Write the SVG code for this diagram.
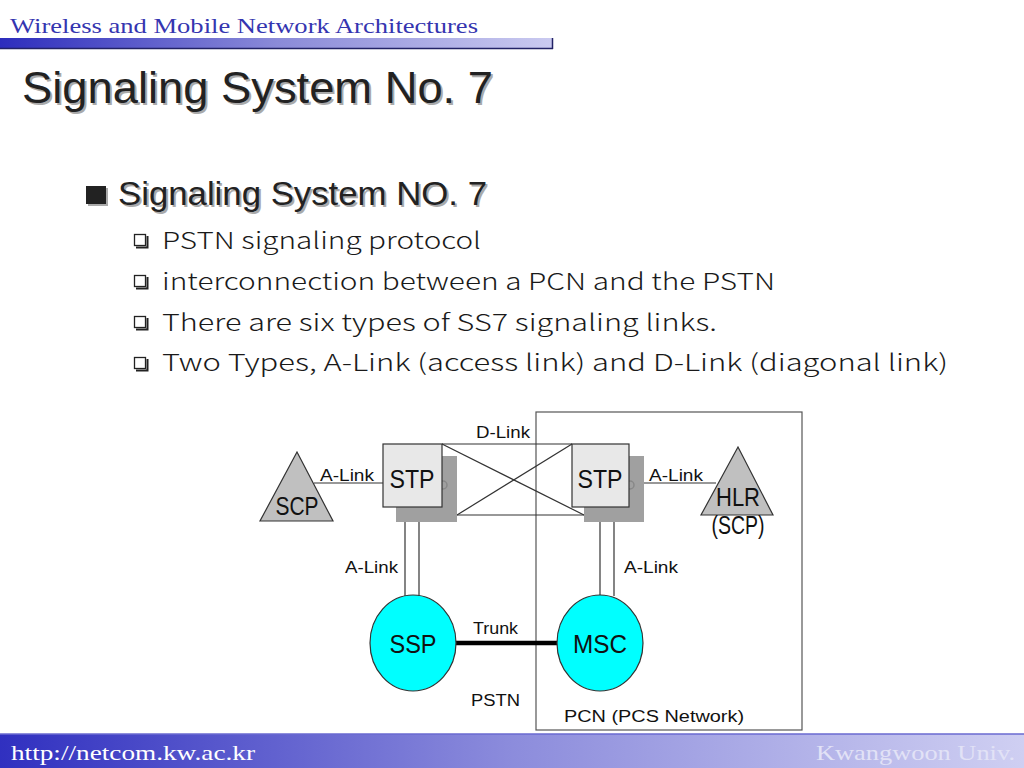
<svg xmlns="http://www.w3.org/2000/svg" width="1024" height="768" viewBox="0 0 1024 768">
<defs>
<linearGradient id="hbar" x1="0" y1="0" x2="1" y2="0">
<stop offset="0" stop-color="#2d2dbd"/>
<stop offset="0.5" stop-color="#8a8ad8"/>
<stop offset="1" stop-color="#cacaf0"/>
</linearGradient>
<linearGradient id="fbar" x1="0" y1="0" x2="1" y2="0">
<stop offset="0" stop-color="#3030c0"/>
<stop offset="0.5" stop-color="#8c8cdc"/>
<stop offset="1" stop-color="#cfcff2"/>
</linearGradient>
<style>
.hdr{font-family:"Liberation Serif","Times New Roman",serif;}
.sans{font-family:"Liberation Sans",Arial,sans-serif;}
.kr{font-family:"Noto Sans CJK KR","DejaVu Sans",sans-serif;font-weight:300;fill:#1a1a1a;}
.lbl{font-family:"Liberation Sans",Arial,sans-serif;font-size:16px;fill:#111;}
.node{font-family:"Liberation Sans",Arial,sans-serif;font-size:25px;fill:#111;text-anchor:middle;}
.ln{stroke:#333;stroke-width:1.2;fill:none;}
.stp{fill:#e8e8e8;stroke:#333;stroke-width:1.2;}
.shadow{fill:#a0a0a0;}
.tri{fill:#c0c0c0;stroke:#333;stroke-width:1.2;}
.ell{fill:#00ffff;stroke:#333;stroke-width:1.2;}
</style>
</defs>
<rect width="1024" height="768" fill="#ffffff"/>

<!-- header -->
<text class="hdr" x="10" y="33" font-size="22" fill="#3535b0" textLength="468" lengthAdjust="spacingAndGlyphs">Wireless and Mobile Network Architectures</text>
<rect x="0" y="38" width="553" height="11" fill="url(#hbar)"/>
<line x1="0" y1="48.5" x2="553" y2="48.5" stroke="#222266" stroke-width="1.5"/>
<line x1="552.5" y1="38" x2="552.5" y2="49" stroke="#222266" stroke-width="1.5"/>

<!-- title -->
<text class="sans" x="24" y="105" font-size="44" fill="#aaa" textLength="471" lengthAdjust="spacingAndGlyphs">Signaling System No. 7</text>
<text class="sans" x="22" y="103" font-size="44" fill="#222" textLength="471" lengthAdjust="spacingAndGlyphs">Signaling System No. 7</text>

<!-- main bullet -->
<rect x="88" y="188" width="20" height="18" fill="#aaa"/>
<rect x="86" y="186" width="20" height="18" fill="#222"/>
<text class="sans" x="120" y="207" font-size="34" fill="#aaa" textLength="369" lengthAdjust="spacingAndGlyphs">Signaling System NO. 7</text>
<text class="sans" x="118" y="205" font-size="34" fill="#222" textLength="369" lengthAdjust="spacingAndGlyphs">Signaling System NO. 7</text>

<!-- sub bullets -->
<g id="sub1">
<rect x="134.5" y="234.5" width="11" height="11" fill="none" stroke="#222" stroke-width="1.3"/>
<path d="M136 247.5 H147.5 V236" fill="none" stroke="#222" stroke-width="2"/>
<text class="kr" x="162" y="249" font-size="23" textLength="319" lengthAdjust="spacingAndGlyphs">PSTN signaling protocol</text>
</g>
<g id="sub2">
<rect x="134.5" y="275.5" width="11" height="11" fill="none" stroke="#222" stroke-width="1.3"/>
<path d="M136 288.5 H147.5 V277" fill="none" stroke="#222" stroke-width="2"/>
<text class="kr" x="162" y="290" font-size="23" textLength="613" lengthAdjust="spacingAndGlyphs">interconnection between a PCN and the PSTN</text>
</g>
<g id="sub3">
<rect x="134.5" y="316.5" width="11" height="11" fill="none" stroke="#222" stroke-width="1.3"/>
<path d="M136 329.5 H147.5 V318" fill="none" stroke="#222" stroke-width="2"/>
<text class="kr" x="162" y="331" font-size="23" textLength="555" lengthAdjust="spacingAndGlyphs">There are six types of SS7 signaling links.</text>
</g>
<g id="sub4">
<rect x="134.5" y="357.5" width="11" height="11" fill="none" stroke="#222" stroke-width="1.3"/>
<path d="M136 370.5 H147.5 V359" fill="none" stroke="#222" stroke-width="2"/>
<text class="kr" x="162" y="371" font-size="23" textLength="786" lengthAdjust="spacingAndGlyphs">Two Types, A-Link (access link) and D-Link (diagonal link)</text>
</g>

<!-- PCN region -->
<g id="pcn">
<rect x="536" y="412" width="266" height="318" fill="none" stroke="#555" stroke-width="1.2"/>
<text class="lbl" x="564" y="722" textLength="180" lengthAdjust="spacingAndGlyphs">PCN (PCS Network)</text>
</g>
<text class="lbl" x="471" y="706" textLength="49" lengthAdjust="spacingAndGlyphs">PSTN</text>

<!-- connectors -->
<g id="connectors">
<line class="ln" x1="442" y1="444" x2="572" y2="444"/>
<line class="ln" x1="457" y1="515" x2="584" y2="515"/>
<line class="ln" x1="442" y1="444" x2="584" y2="515"/>
<line class="ln" x1="457" y1="515" x2="572" y2="444"/>
<line class="ln" x1="314" y1="483" x2="383" y2="483"/>
<line class="ln" x1="629" y1="483" x2="716" y2="483"/>
<line class="ln" x1="405" y1="522" x2="405" y2="596"/>
<line class="ln" x1="419" y1="522" x2="419" y2="596"/>
<line class="ln" x1="600" y1="522" x2="600" y2="596"/>
<line class="ln" x1="614" y1="522" x2="614" y2="596"/>
<line x1="455" y1="643" x2="558" y2="643" stroke="#000" stroke-width="4.5"/>
<text class="lbl" x="476" y="438" textLength="54" lengthAdjust="spacingAndGlyphs">D-Link</text>
<text class="lbl" x="320" y="481" textLength="54" lengthAdjust="spacingAndGlyphs">A-Link</text>
<text class="lbl" x="649" y="481" textLength="54" lengthAdjust="spacingAndGlyphs">A-Link</text>
<text class="lbl" x="345" y="573" textLength="53" lengthAdjust="spacingAndGlyphs">A-Link</text>
<text class="lbl" x="624" y="573" textLength="54" lengthAdjust="spacingAndGlyphs">A-Link</text>
<text class="lbl" x="473" y="634" textLength="45" lengthAdjust="spacingAndGlyphs">Trunk</text>
</g>

<!-- nodes -->
<g id="stp-left">
<rect class="shadow" x="396" y="456" width="61" height="66"/>
<circle cx="443" cy="485" r="4" fill="none" stroke="#888" stroke-width="1.5"/>
<rect class="stp" x="383" y="444" width="59" height="63"/>
<text class="node" x="412" y="488" textLength="45" lengthAdjust="spacingAndGlyphs">STP</text>
</g>
<g id="stp-right">
<rect class="shadow" x="584" y="456" width="60" height="66"/>
<circle cx="630" cy="485" r="4" fill="none" stroke="#888" stroke-width="1.5"/>
<rect class="stp" x="572" y="444" width="57" height="63"/>
<text class="node" x="600" y="488" textLength="45" lengthAdjust="spacingAndGlyphs">STP</text>
</g>
<g id="scp">
<polygon class="tri" points="297,452 260,521 333,521"/>
<text class="node" x="297" y="515" font-size="21" textLength="43" lengthAdjust="spacingAndGlyphs">SCP</text>
</g>
<g id="hlr">
<polygon class="tri" points="738,447 701,515 773,515"/>
<text class="node" x="738" y="506" font-size="19" textLength="44" lengthAdjust="spacingAndGlyphs">HLR</text>
<text class="node" x="738" y="534" font-size="16" textLength="53" lengthAdjust="spacingAndGlyphs">(SCP)</text>
</g>
<g id="ssp">
<ellipse class="ell" cx="413" cy="643" rx="43" ry="48"/>
<text class="node" x="413" y="653" textLength="47" lengthAdjust="spacingAndGlyphs">SSP</text>
</g>
<g id="msc">
<ellipse class="ell" cx="600" cy="643" rx="43" ry="48"/>
<text class="node" x="600" y="653" textLength="54" lengthAdjust="spacingAndGlyphs">MSC</text>
</g>

<!-- footer -->
<rect x="0" y="734" width="1024" height="34" fill="url(#fbar)"/>
<line x1="0" y1="734" x2="1024" y2="734" stroke="#6a6ad0" stroke-width="1.5"/>
<text class="hdr" x="11" y="760" font-size="22" fill="#ffffff" textLength="244" lengthAdjust="spacingAndGlyphs">http://netcom.kw.ac.kr</text>
<text class="hdr" x="1015" y="760" font-size="22" fill="#e2e2f6" text-anchor="end" textLength="199" lengthAdjust="spacingAndGlyphs">Kwangwoon Univ.</text>
</svg>
